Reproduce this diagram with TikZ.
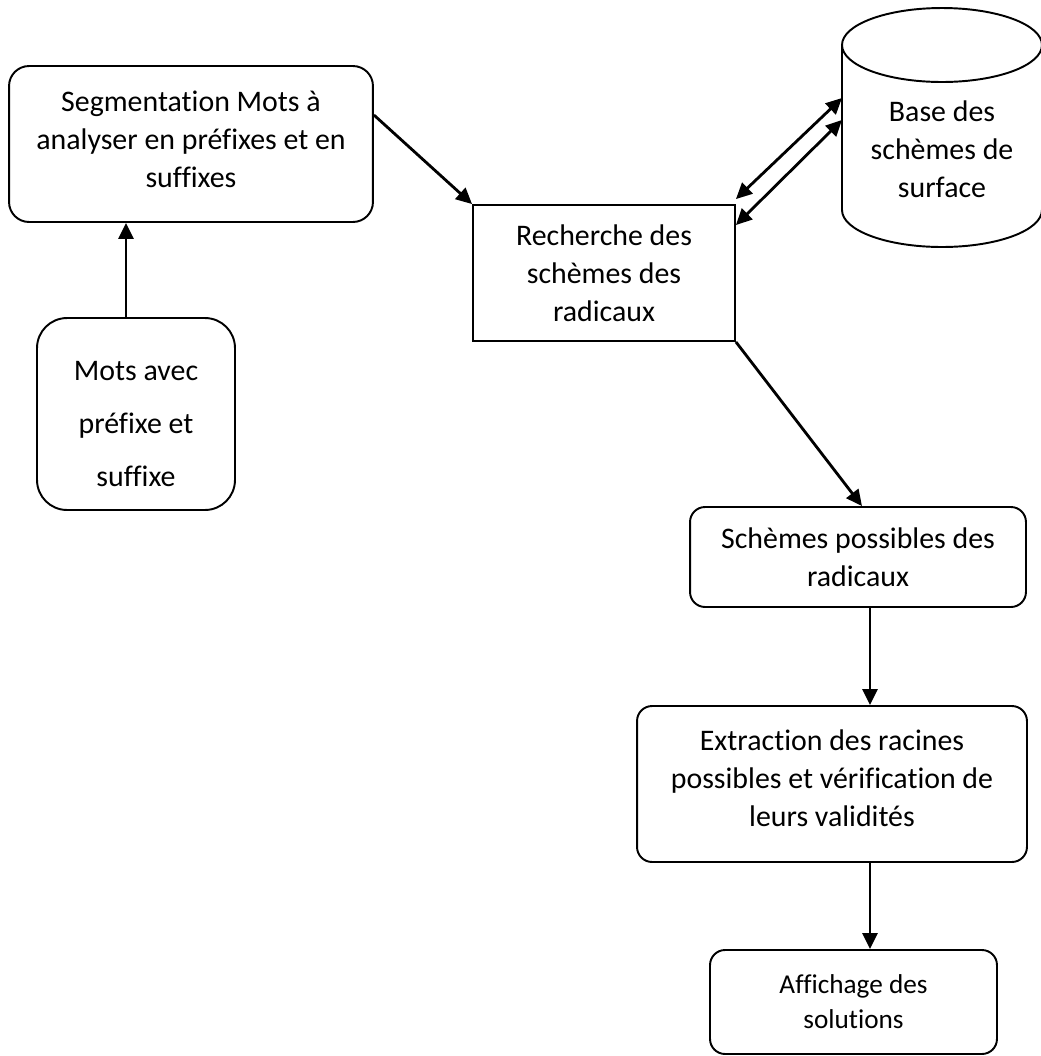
\documentclass[tikz,border=0pt]{standalone}
\usepackage{fontspec}
\setmainfont{Carlito}[Ligatures=NoCommon]
\usepackage{tikz}
\usetikzlibrary{arrows.meta,positioning,calc}
\tikzset{
	boite/.style={draw,line width=1.1pt,rounded corners=0.3cm,align=center,inner sep=2pt,font=\fontsize{17}{21.5}\selectfont},
	fleche/.style={-{Triangle[length=3.2mm,width=3mm]},line width=1.6pt},
	double fleche/.style={{Triangle[length=3.2mm,width=3mm]}-{Triangle[length=3.2mm,width=3mm]},line width=1.6pt}
}
\begin{document}
\begin{tikzpicture}[x=0.02cm,y=-0.02cm]
		\useasboundingbox (0,0) rectangle (1041,1056);
		\node[boite,rounded corners=0.4cm,minimum width=7.28cm,minimum height=3.12cm] (seg) at (191,144) {Segmentation Mots à\\analyser en préfixes et en\\suffixes\rule[-5.7pt]{0pt}{0pt}};
		\node[boite,rounded corners=0.6cm,minimum width=3.96cm,minimum height=3.84cm,font=\fontsize{17}{30}\selectfont] (mots) at (136,414) {\rule{0pt}{22.4pt}Mots avec\\préfixe et\\suffixe};
		\node[boite,rounded corners=0pt,minimum width=5.24cm,minimum height=2.72cm] (rech) at (604,273) {Recherche des\\schèmes des\\radicaux};
		% base de surface
		\draw[line width=1.1pt] (842,45) -- (842,210) arc (180:360:2cm and 0.74cm) -- (1042,45);
		\draw[line width=1.1pt] (942,45) ellipse [x radius=2cm,y radius=0.74cm];
		\node[boite,draw=none] (base) at (942,149) {Base des\\schèmes de\\surface};
		\coordinate (base haut) at (842,98);
		\coordinate (base bas) at (842,120);
		\node[boite,minimum width=6.72cm,minimum height=2cm] (poss) at (858,557) {Schèmes possibles des\\radicaux};
		\node[boite,minimum width=7.8cm,minimum height=3.12cm] (extr) at (832,784) {Extraction des racines\\possibles et vérification de\\leurs validités\rule[-6.8pt]{0pt}{0pt}};
		\node[boite,minimum width=5.74cm,minimum height=2.08cm,font=\fontsize{15.5}{20}\selectfont] (aff) at (853.5,1002) {Affichage des\\solutions};
		\draw[fleche] ([xshift=-0.2cm]mots.north) -- ([xshift=-0.2cm]mots.north |- seg.south);
		\draw[fleche] ([yshift=0.58cm]seg.east) -- (rech.north west);
		\draw[double fleche] ([yshift=0.1cm]rech.north east) -- (base haut);
		\draw[double fleche] ([yshift=-0.42cm]rech.north east) -- (base bas);
		\draw[fleche] (rech.south east) -- ([xshift=0.08cm]poss.north);
		\draw[fleche] ([xshift=0.24cm]poss.south) -- ([xshift=0.24cm]poss.south |- extr.north);
		\draw[fleche] ([xshift=0.76cm]extr.south) -- ([xshift=0.76cm]extr.south |- aff.north);
	\end{tikzpicture}
\end{document}
